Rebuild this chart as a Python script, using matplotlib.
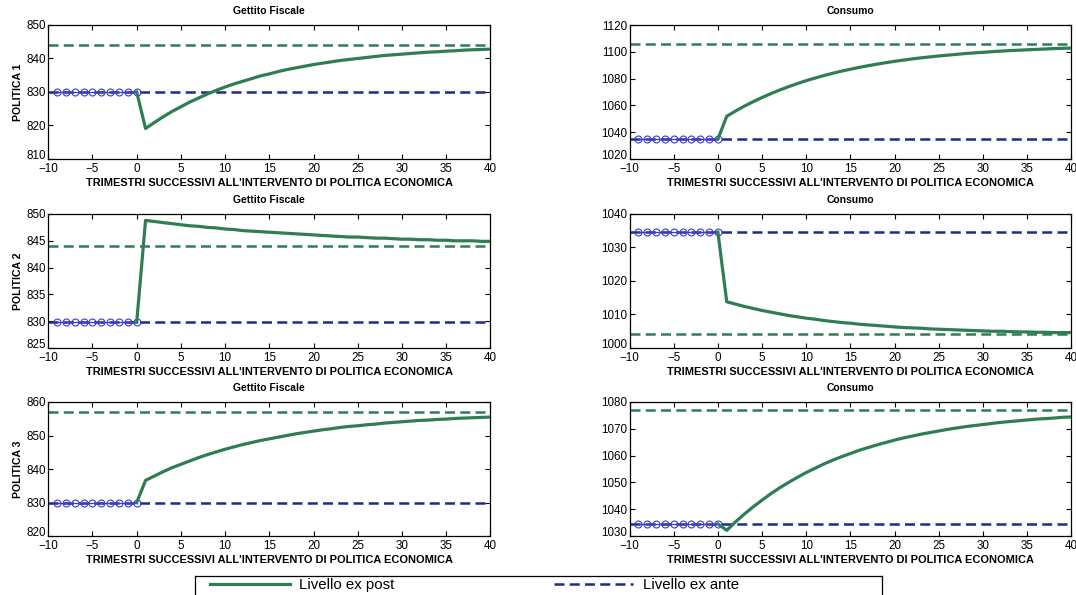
import matplotlib.pyplot as plt
from matplotlib.lines import Line2D

plt.rcParams['font.family'] = ['Liberation Sans', 'DejaVu Sans']

# quarters before and after the policy change
quarters_pre = list(range(-9, 1))
quarters_post = list(range(0, 41))

# POLITICA 1
gettito_p1_ante = 830.0
gettito_p1_post = 844.1
gettito_p1 = [830.0, 819.1, 820.9, 822.6, 824.2, 825.6, 827.0, 828.2, 829.4, 830.5, 831.5,
              832.4, 833.2, 834.0, 834.8, 835.4, 836.1, 836.7, 837.2, 837.7, 838.2,
              838.6, 839.0, 839.4, 839.7, 840.0, 840.3, 840.6, 840.9, 841.1, 841.3,
              841.5, 841.7, 841.9, 842.0, 842.2, 842.3, 842.5, 842.6, 842.7, 842.8]
consumo_p1_ante = 1034.8
consumo_p1_post = 1105.6
consumo_p1 = [1034.8, 1051.9, 1055.8, 1059.5, 1062.8, 1065.9, 1068.8, 1071.5, 1074.0, 1076.3, 1078.5,
              1080.4, 1082.3, 1084.0, 1085.6, 1087.0, 1088.4, 1089.6, 1090.8, 1091.9, 1092.9,
              1093.8, 1094.7, 1095.5, 1096.2, 1096.9, 1097.5, 1098.1, 1098.7, 1099.2, 1099.6,
              1100.1, 1100.5, 1100.9, 1101.2, 1101.5, 1101.8, 1102.1, 1102.4, 1102.6, 1102.8]

# POLITICA 2
gettito_p2_ante = 829.8
gettito_p2_post = 844.1
gettito_p2 = [829.8, 848.8, 848.6, 848.4, 848.2, 848.0, 847.8, 847.7, 847.5, 847.4, 847.2,
              847.1, 846.9, 846.8, 846.7, 846.6, 846.5, 846.4, 846.3, 846.2, 846.1,
              846.0, 845.9, 845.8, 845.7, 845.7, 845.6, 845.5, 845.5, 845.4, 845.3,
              845.3, 845.2, 845.2, 845.1, 845.1, 845.0, 845.0, 845.0, 844.9, 844.9]
consumo_p2_ante = 1034.6
consumo_p2_post = 1004.1
consumo_p2 = [1034.6, 1013.8, 1013.1, 1012.4, 1011.8, 1011.2, 1010.7, 1010.2, 1009.7, 1009.3, 1008.9,
              1008.6, 1008.2, 1007.9, 1007.6, 1007.4, 1007.1, 1006.9, 1006.7, 1006.5, 1006.3,
              1006.1, 1006.0, 1005.9, 1005.7, 1005.6, 1005.5, 1005.4, 1005.3, 1005.2, 1005.1,
              1005.0, 1005.0, 1004.9, 1004.8, 1004.8, 1004.7, 1004.7, 1004.6, 1004.6, 1004.6]

# POLITICA 3
gettito_p3_ante = 830.0
gettito_p3_post = 857.0
gettito_p3 = [830.0, 836.6, 837.9, 839.2, 840.4, 841.4, 842.4, 843.4, 844.3, 845.1, 845.9,
              846.6, 847.3, 847.9, 848.5, 849.0, 849.5, 850.0, 850.5, 850.9, 851.3,
              851.7, 852.0, 852.4, 852.7, 852.9, 853.2, 853.4, 853.7, 853.9, 854.1,
              854.3, 854.5, 854.6, 854.8, 854.9, 855.1, 855.2, 855.3, 855.4, 855.5]
consumo_p3_ante = 1034.5
consumo_p3_post = 1077.1
consumo_p3 = [1034.5, 1032.1, 1035.3, 1038.2, 1040.9, 1043.4, 1045.8, 1048.0, 1050.0, 1051.9, 1053.7,
              1055.3, 1056.9, 1058.3, 1059.6, 1060.8, 1062.0, 1063.0, 1064.0, 1064.9, 1065.8,
              1066.6, 1067.3, 1068.0, 1068.6, 1069.2, 1069.8, 1070.3, 1070.8, 1071.2, 1071.6,
              1072.0, 1072.4, 1072.7, 1073.0, 1073.3, 1073.6, 1073.8, 1074.0, 1074.3, 1074.4]

panels = [
    # (row, col, title, series, ante, post, ylim, yticks)
    (0, 0, 'Gettito Fiscale', gettito_p1, gettito_p1_ante, gettito_p1_post, (810, 850), range(810, 851, 10)),
    (0, 1, 'Consumo', consumo_p1, consumo_p1_ante, consumo_p1_post, (1020, 1120), range(1020, 1121, 20)),
    (1, 0, 'Gettito Fiscale', gettito_p2, gettito_p2_ante, gettito_p2_post, (825, 850), range(825, 851, 5)),
    (1, 1, 'Consumo', consumo_p2, consumo_p2_ante, consumo_p2_post, (1000, 1040), range(1000, 1041, 10)),
    (2, 0, 'Gettito Fiscale', gettito_p3, gettito_p3_ante, gettito_p3_post, (820, 860), range(820, 861, 10)),
    (2, 1, 'Consumo', consumo_p3, consumo_p3_ante, consumo_p3_post, (1030, 1080), range(1030, 1081, 10)),
]

GREEN = '#2e7d55'
NAVY = '#1f2a8c'
BLUE = '#3a3ad8'

W, H = 1076, 595
fig = plt.figure(figsize=(W / 100, H / 100), dpi=100)

col_x = [48.3, 629.5]
row_top = [25, 214, 402]
ax_w, ax_h = 442, 134

xlabel = "TRIMESTRI SUCCESSIVI ALL'INTERVENTO DI POLITICA ECONOMICA"

for row, col, title, series, ante, post, ylim, yticks in panels:
    ax = fig.add_axes([col_x[col] / W, 1 - (row_top[row] + ax_h) / H, ax_w / W, ax_h / H])
    ax.axhline(post, color=GREEN, lw=1.8, ls=(0, (4, 2.1)), zorder=2)
    ax.axhline(ante, color=NAVY, lw=1.8, ls=(0, (4, 2.1)), zorder=2)
    ax.plot(quarters_pre, [ante] * len(quarters_pre), color=BLUE, lw=0.9, marker='o',
            ms=5, mfc='none', mew=0.8, zorder=3)
    ax.plot(quarters_post, series, color=GREEN, lw=2.3, zorder=4)
    ax.set_xlim(-10, 40)
    ax.set_ylim(*ylim)
    ax.set_xticks(range(-10, 41, 5))
    ax.set_yticks(list(yticks))
    ax.tick_params(direction='in', top=True, right=True, length=3.5, width=0.8,
                   labelsize=8.4, pad=1.5)
    ax.tick_params(axis='x', pad=2.8)
    # lift the lowest y label so it clears the -10 below it
    ax.get_yticklabels()[0].set_verticalalignment('baseline')
    for s in ax.spines.values():
        s.set_linewidth(0.9)
    ax.set_title(title, fontsize=7.5, fontweight='bold', pad=8)
    ax.set_xlabel(xlabel, fontsize=7.9, fontweight='bold', labelpad=2.5)
    if col == 0:
        ax.set_ylabel('POLITICA %d' % (row + 1), fontsize=7.6, fontweight='bold', labelpad=3)

# legend box along the bottom edge
lax = fig.add_axes([195 / W, -4 / H, 687 / W, 23 / H])
lax.set_xticks([])
lax.set_yticks([])
for s in lax.spines.values():
    s.set_linewidth(0.9)
handles = [Line2D([], [], color=GREEN, lw=2.3),
           Line2D([], [], color=NAVY, lw=1.8, ls=(0, (4, 2.1)))]
lax.legend(handles, ['Livello ex post', 'Livello ex ante'], ncol=2, loc='center left',
           bbox_to_anchor=(15 / 687, 0.6), frameon=False, borderpad=0, borderaxespad=0,
           fontsize=10.8, handlelength=5.3, handletextpad=0.65, columnspacing=10.6)

fig.savefig('out.png', dpi=100)
